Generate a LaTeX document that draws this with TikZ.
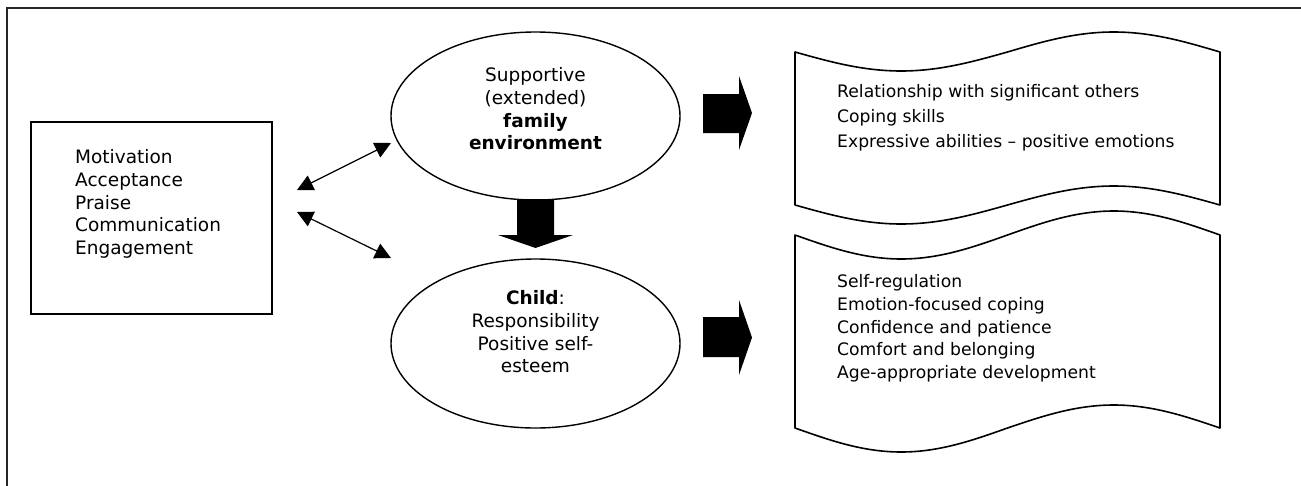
\documentclass[tikz,border=0pt]{standalone}
\usepackage{fontspec}
\setmainfont{DejaVu Sans}
\usetikzlibrary{shapes.geometric,arrows.meta}

\tikzset{
  frameline/.style={line width=2pt, draw=black!85},
  boxline/.style={draw, line width=1.8pt},
  oval/.style={ellipse, draw, line width=1.4pt, inner sep=0pt},
  wavy/.style={draw, line width=1.6pt, line join=round},
  blockarrow/.style={fill=black, draw=none},
  link/.style={line width=1.2pt, {Triangle[length=16pt,width=16pt]}-{Triangle[length=16pt,width=16pt]}},
  txt/.style={inner sep=0pt, font=\fontsize{18.5}{22.7}\selectfont},
  smalltxt/.style={inner sep=0pt, font=\fontsize{17.2}{22.7}\selectfont},
}

\begin{document}
\begin{tikzpicture}[x=1pt, y=-1pt]
\useasboundingbox (0,0) rectangle (1301,485);

% page frame (left and top rules)
\draw[frameline] (7,490) -- (7,8.3) -- (1305,8.3);

% left box with the list of parental factors
\node[boxline, minimum width=241pt, minimum height=192pt, inner sep=0pt] (box) at (151.5,218) {};
\node[txt, anchor=north west, align=left] (boxtext) at (75,149.5)
  {Motivation\\Acceptance\\Praise\\Communication\\Engagement};

% the two ovals
\node[oval, minimum width=289pt, minimum height=168pt] (family) at (535.5,116) {};
\node[txt, anchor=north, align=center] (familytext) at (535.5,67.5)
  {Supportive\\(extended)\\\textbf{family}\\\textbf{environment}};

\node[oval, minimum width=289pt, minimum height=169pt] (child) at (535.5,343.5) {};
\node[txt, anchor=north, align=center] (childtext) at (535.5,290.5)
  {\textbf{Child}:\\Responsibility\\Positive self-\\esteem};

% two-headed links between the box and the ovals
\coordinate (l1a) at (297,190);
\coordinate (l1b) at (391,143);
\coordinate (l2a) at (297,212);
\coordinate (l2b) at (391,258);
\draw[link] (l1a) -- (l1b);
\draw[link] (l2a) -- (l2b);

% block arrows
\fill[blockarrow] (517,199) -- (554,199) -- (554,235) -- (573,235) -- (535.5,248)
  -- (498,235) -- (517,235) -- cycle;
\fill[blockarrow] (703,94) -- (739,94) -- (739,76) -- (752,113) -- (739,150)
  -- (739,133) -- (703,133) -- cycle;
\fill[blockarrow] (703,317) -- (739,317) -- (739,300) -- (752,337.5) -- (739,375)
  -- (739,357) -- (703,357) -- cycle;

% wave-shaped outcome panels
\draw[wavy] (795,52) sin (901.25,71) cos (1007.5,52) sin (1113.75,32) cos (1220,52)
  -- (1220,205) sin (1113.75,186) cos (1007.5,205) sin (901.25,224) cos (795,205) -- cycle;
\node[smalltxt, anchor=north west, align=left, font=\fontsize{17.2}{25}\selectfont] (outtop) at (837,84)
  {Relationship with significant others\\Coping skills\\Expressive abilities -- positive emotions};

\draw[wavy] (795,235) sin (901.25,259) cos (1007.5,235) sin (1113.75,211) cos (1220,235)
  -- (1220,428) sin (1113.75,405) cos (1007.5,428) sin (901.25,452) cos (795,428) -- cycle;
\node[smalltxt, anchor=north west, align=left] (outbottom) at (837,274.5)
  {Self-regulation\\Emotion-focused coping\\Confidence and patience\\Comfort and belonging\\Age-appropriate development};
\end{tikzpicture}
\end{document}
